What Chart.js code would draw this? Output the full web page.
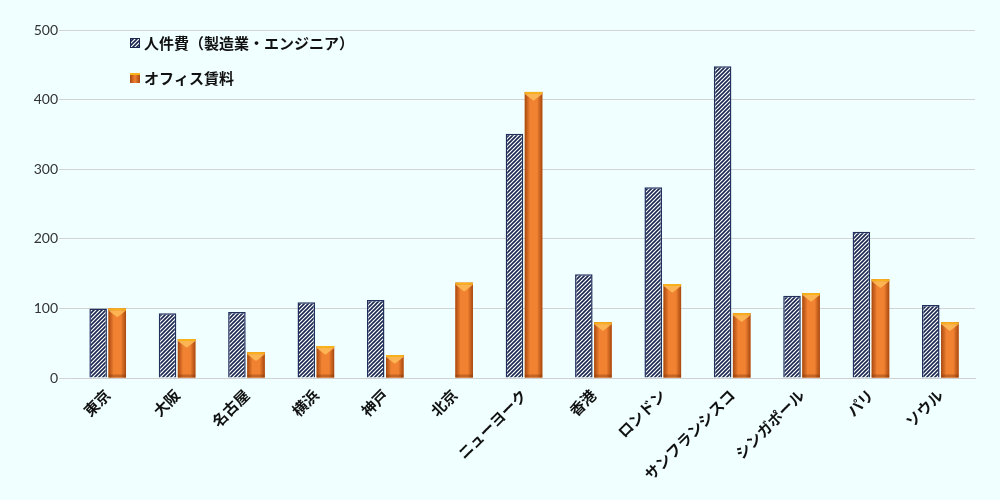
<!DOCTYPE html>
<html>
<head>
<meta charset="utf-8">
<script src="https://cdn.jsdelivr.net/npm/chart.js@4.4.0/dist/chart.umd.min.js"></script>
<style>
  html, body { margin: 0; padding: 0; background: #F0FFFF; }
  #wrap { width: 1000px; height: 500px; }
</style>
</head>
<body>
<div id="wrap"><canvas id="grafico" width="1000" height="500"></canvas></div>
<script>
var ciudades = ['東京','大阪','名古屋','横浜','神戸','北京','ニューヨーク','香港','ロンドン','サンフランシスコ','シンガポール','パリ','ソウル'];
var jinkenhi = [100, 93, 95, 109, 112, 0, 351, 149, 274, 448, 118, 210, 105];
var office = [100, 56, 37, 46, 33, 137, 411, 80, 135, 93, 122, 142, 80];
var yTicks = [0, 100, 200, 300, 400, 500];
var nombres = ['人件費（製造業・エンジニア）', 'オフィス賃料'];

// hatched pattern for the labor cost bars
function rayas(){
  var c = document.createElement('canvas');
  c.width = 4; c.height = 4;
  var g = c.getContext('2d');
  g.fillStyle = '#ffffff';
  g.fillRect(0,0,4,4);
  g.strokeStyle = '#1a2750';
  g.lineWidth = 1.6;
  g.beginPath();
  g.moveTo(-1,5); g.lineTo(5,-1);
  g.moveTo(-1,1); g.lineTo(1,-1);
  g.moveTo(3,5); g.lineTo(5,3);
  g.stroke();
  return g.createPattern(c, 'repeat');
}

// orange bevel on top of the office bars
var bisel = {
  id: 'bisel',
  afterDatasetDraw: function(chart, args){
    if(args.index != 1) return;
    var ctx = chart.ctx;
    args.meta.data.forEach(function(bar){
      var p = bar.getProps(['x','y','base','width'], true);
      var l = p.x - p.width/2, r = p.x + p.width/2, t = p.y, b = p.base;
      if(b - t < 1) return;
      var gr = ctx.createLinearGradient(l,0,r,0);
      gr.addColorStop(0,'#a8480f');
      gr.addColorStop(0.3,'#f08232');
      gr.addColorStop(0.7,'#f08232');
      gr.addColorStop(1,'#a8480f');
      ctx.save();
      ctx.fillStyle = gr;
      ctx.fillRect(l,t,r-l,b-t);
      var h = Math.min(p.width/2, b-t);
      ctx.fillStyle = '#f7b21c';
      ctx.fillRect(l,t,r-l,2);
      ctx.fillStyle = 'rgba(255,190,90,0.85)';
      ctx.beginPath();
      ctx.moveTo(l,t+2); ctx.lineTo(r,t+2); ctx.lineTo(p.x,t+h); ctx.closePath();
      ctx.fill();
      ctx.fillStyle = 'rgba(120,50,10,0.35)';
      ctx.fillRect(l,b-3,r-l,3);
      ctx.restore();
    });
  }
};

// vertical legend in the upper left of the plot
var leyenda = {
  id: 'leyenda',
  afterDraw: function(chart){
    var ctx = chart.ctx;
    var x = chart.chartArea.left + 57;
    var ys = [chart.chartArea.top + 13, chart.chartArea.top + 48];
    ctx.save();
    ctx.font = 'bold 15px "Noto Sans CJK JP"';
    ctx.textBaseline = 'middle';
    for(var i = 0; i < nombres.length; i++){
      var y = ys[i];
      if(i == 0){
        ctx.fillStyle = rayas();
        ctx.fillRect(x, y-5, 10, 10);
        ctx.strokeStyle = '#1a2750';
        ctx.lineWidth = 1;
        ctx.strokeRect(x+0.5, y-4.5, 9, 9);
      } else {
        var gr = ctx.createLinearGradient(x,0,x+10,0);
        gr.addColorStop(0,'#a8480f'); gr.addColorStop(0.5,'#f08232'); gr.addColorStop(1,'#a8480f');
        ctx.fillStyle = gr;
        ctx.fillRect(x, y-5, 10, 10);
        ctx.fillStyle = '#f7b21c';
        ctx.fillRect(x, y-5, 10, 2);
      }
      ctx.fillStyle = '#111111';
      ctx.fillText(nombres[i], x + 14, y);
    }
    ctx.restore();
  }
};

var contexto = document.getElementById('grafico').getContext('2d');
var myChart = new Chart(contexto, {
  type: 'bar',
  data: {
    labels: ciudades,
    datasets: [{
      label: nombres[0],
      data: jinkenhi,
      backgroundColor: rayas(),
      borderColor: '#22305e',
      borderWidth: 1.5
    },{
      label: nombres[1],
      data: office,
      backgroundColor: '#f08232',
      borderWidth: 0
    }]
  },
  options: {
    responsive: false,
    animation: false,
    layout: { padding: { left: 0, right: 25, top: 30, bottom: 0 } },
    datasets: { bar: { categoryPercentage: 0.55, barPercentage: 0.92 } },
    plugins: {
      legend: { display: false },
      tooltip: { enabled: false }
    },
    scales: {
      x: {
        afterFit: function(axis){ axis.height = 122; },
        grid: { display: false },
        border: { display: true, color: '#d0d0d0' },
        ticks: {
          minRotation: 45, maxRotation: 45, autoSkip: false,
          color: '#111111', padding: 0,
          font: { family: '"Noto Sans CJK JP"', size: 15, weight: 'bold' }
        }
      },
      y: {
        min: 0, max: 500,
        afterFit: function(axis){ axis.width = 73; },
        afterBuildTicks: function(axis){ axis.ticks = yTicks.map(function(v){ return {value: v}; }); },
        grid: { color: '#d3d3d3', drawTicks: true, tickLength: 14, tickColor: '#d3d3d3' },
        border: { display: false },
        ticks: {
          color: '#333333', padding: 1,
          font: { family: 'Lato', size: 14 }
        }
      }
    }
  },
  plugins: [bisel, leyenda]
});
</script>
</body>
</html>
